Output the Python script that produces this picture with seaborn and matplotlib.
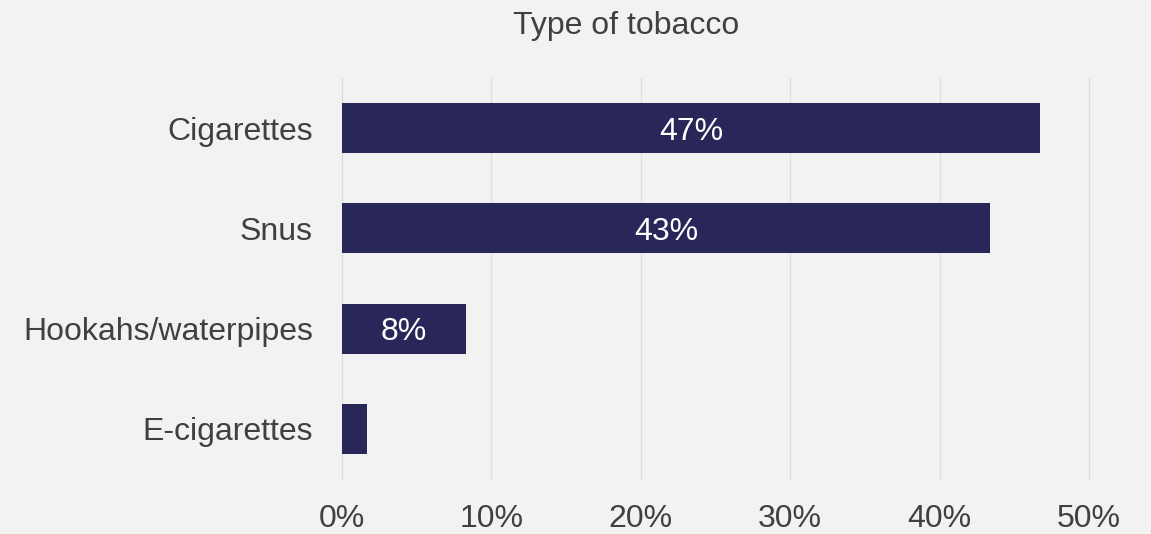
import matplotlib
matplotlib.use("Agg")
import matplotlib.pyplot as plt
import seaborn as sns
import pandas as pd

categories = ["Cigarettes", "Snus", "Hookahs/waterpipes", "E-cigarettes"]
shares = [46.7, 43.4, 8.3, 1.7]
x_ticks = [0, 10, 20, 30, 40, 50]
x_tick_labels = ["0%", "10%", "20%", "30%", "40%", "50%"]
title = "Type of tobacco"

bg = "#f2f2f2"
bar_color = "#29275a"
text_color = "#404040"
fs = 23

sns.set_theme(style="white")
plt.rcParams["font.family"] = ["Liberation Sans", "DejaVu Sans"]

df = pd.DataFrame({"category": categories, "share": shares})

fig = plt.figure(figsize=(11.51, 5.34), dpi=100, facecolor=bg)
ax = fig.add_axes([342 / 1151, 1 - 479 / 534, (1089 - 342) / 1151, (479 - 78) / 534])
ax.set_facecolor(bg)

sns.barplot(data=df, x="share", y="category", order=categories,
            color=bar_color, saturation=1, width=0.5, linewidth=0,
            ax=ax, zorder=3)

ax.set_xlim(0, 50)
ax.set_ylim(3.5, -0.5)
ax.set_xticks(x_ticks)
ax.set_xticklabels(x_tick_labels)
ax.grid(axis="x", color="#dedede", linewidth=1.0, zorder=0)
ax.grid(axis="y", visible=False)
for gl in ax.get_xgridlines():
    gl.set_clip_on(False)
for s in ax.spines.values():
    s.set_visible(False)
ax.tick_params(axis="both", length=0, labelsize=fs, colors=text_color)
ax.tick_params(axis="x", pad=18)
ax.tick_params(axis="y", pad=21)
ax.set_xlabel("")
ax.set_ylabel("")

# value labels inside bars wide enough to hold them
for i, v in enumerate(shares):
    if v >= 5:
        ax.text(v / 2, i, f"{round(v)}%", ha="center", va="center_baseline",
                color="white", fontsize=fs, zorder=4)

fig.text(626 / 1151, 1 - 26 / 534, title, ha="center", va="center",
         fontsize=fs, color=text_color)

fig.savefig("out.png", dpi=100, facecolor=bg)
